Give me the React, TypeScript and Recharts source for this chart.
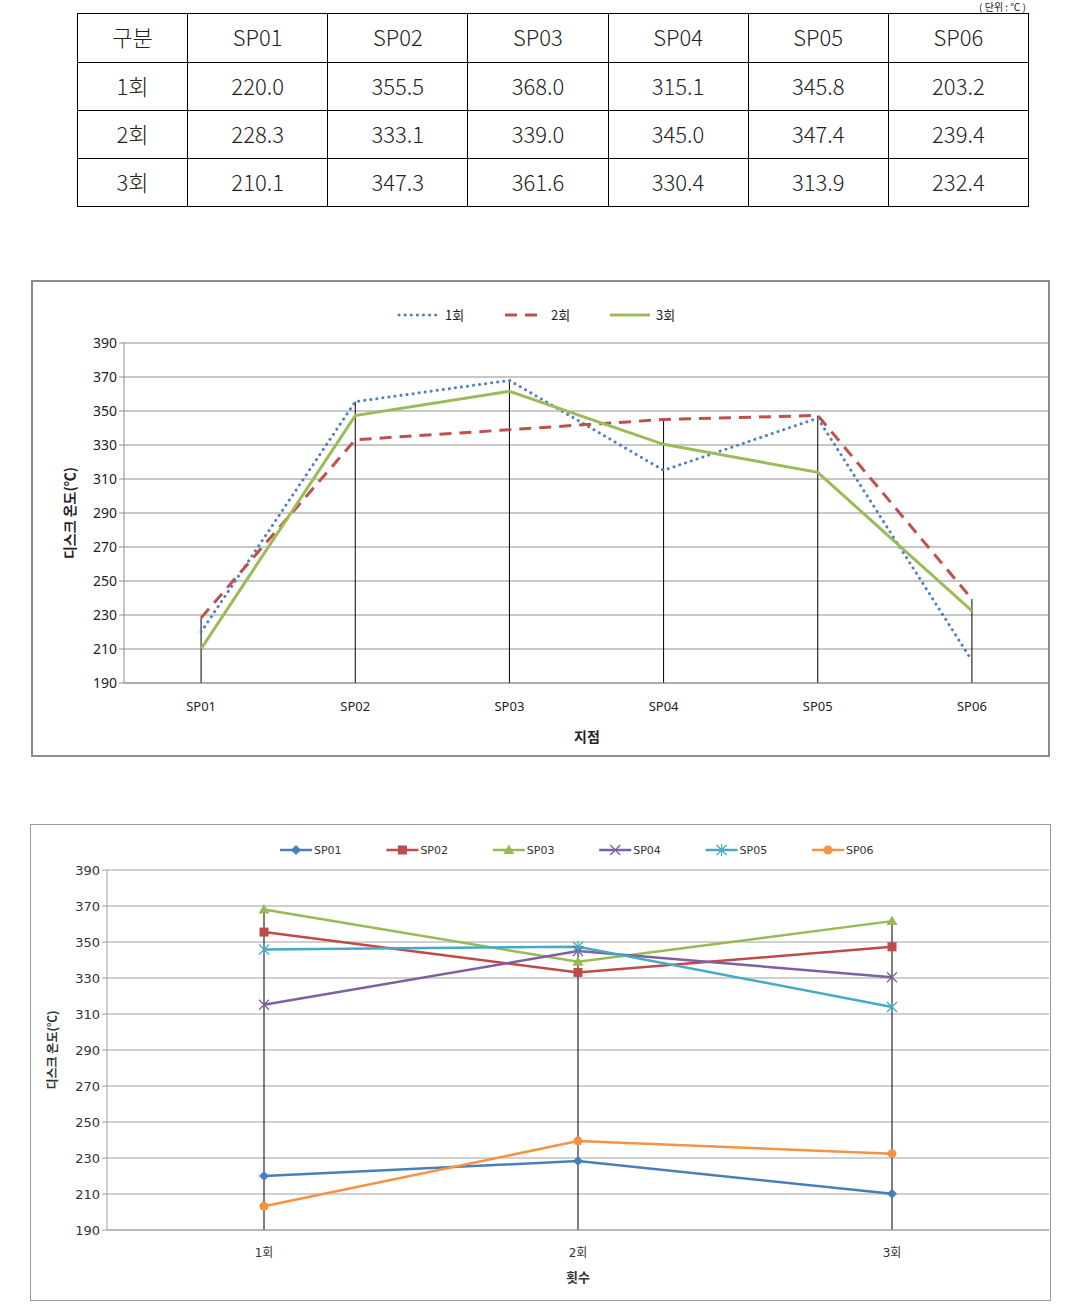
import React from 'react';
import {
  LineChart, Line, XAxis, YAxis, CartesianGrid, ReferenceLine
} from 'recharts';

const categories = ['SP01', 'SP02', 'SP03', 'SP04', 'SP05', 'SP06'];
const runLabels = ['1회', '2회', '3회'];
const run1 = [220.0, 355.5, 368.0, 315.1, 345.8, 203.2];
const run2 = [228.3, 333.1, 339.0, 345.0, 347.4, 239.4];
const run3 = [210.1, 347.3, 361.6, 330.4, 313.9, 232.4];
const runs = [run1, run2, run3];
const yTicks = [190, 210, 230, 250, 270, 290, 310, 330, 350, 370, 390];

const runColors = ['#4F81BD', '#C0504D', '#9BBB59'];
const runDash = ['0.1 6', '12 8', undefined];
const spColors = ['#4A7EBB', '#BE4B48', '#98B954', '#7D60A0', '#46AAC5', '#F69240'];

const byPoint = categories.map((c, i) => ({ name: c, r0: run1[i], r1: run2[i], r2: run3[i] }));
const byRun = runLabels.map((r, j) => {
  const row: Record<string, string | number> = { name: r };
  categories.forEach((c, i) => { row[c] = runs[j][i]; });
  return row;
});

const latin = '"Noto Sans", "Noto Sans CJK KR", sans-serif';
const dejavu = '"DejaVu Sans", "Noto Sans CJK KR", sans-serif';
const cjk = '"Noto Sans CJK KR", sans-serif';

// marker shapes for the second chart
const Marker = ({ kind, cx, cy, color }: { kind: number; cx: number; cy: number; color: string }) => {
  if (cx == null || cy == null) return null;
  switch (kind) {
    case 0:
      return <polygon points={`${cx},${cy - 5} ${cx + 5},${cy} ${cx},${cy + 5} ${cx - 5},${cy}`} fill={color} />;
    case 1:
      return <rect x={cx - 4.5} y={cy - 4.5} width={9} height={9} fill={color} />;
    case 2:
      return <polygon points={`${cx},${cy - 5.5} ${cx + 5.5},${cy + 4} ${cx - 5.5},${cy + 4}`} fill={color} />;
    case 3:
      return (
        <g stroke={color} strokeWidth={1.3}>
          <line x1={cx - 5} y1={cy - 5} x2={cx + 5} y2={cy + 5} />
          <line x1={cx - 5} y1={cy + 5} x2={cx + 5} y2={cy - 5} />
        </g>
      );
    case 4:
      return (
        <g stroke={color} strokeWidth={1.3}>
          <line x1={cx - 5} y1={cy - 5} x2={cx + 5} y2={cy + 5} />
          <line x1={cx - 5} y1={cy + 5} x2={cx + 5} y2={cy - 5} />
          <line x1={cx} y1={cy - 6} x2={cx} y2={cy + 6} />
        </g>
      );
    default:
      return <circle cx={cx} cy={cy} r={4.5} fill={color} />;
  }
};

const cell: React.CSSProperties = { border: '1px solid #000', paddingBottom: 5 };

const TopTable = () => (
  <>
    <div style={{ position: 'absolute', right: 62, top: 1, fontFamily: cjk, fontSize: 10, lineHeight: '11px', color: '#222', whiteSpace: 'pre' }}>
      {'( 단위 : ℃ )'}
    </div>
    <table style={{
      position: 'absolute', left: 77, top: 13, width: 952, borderCollapse: 'collapse',
      fontFamily: cjk, fontSize: 22, fontWeight: 300, color: '#222', textAlign: 'center'
    }}>
      <tbody>
        <tr style={{ height: 49 }}>
          <td style={{ ...cell, width: 109 }}>구분</td>
          {categories.map(c => <td key={c} style={{ ...cell, width: 139 }}>{c}</td>)}
        </tr>
        {runLabels.map((r, j) => (
          <tr key={r} style={{ height: 48 }}>
            <td style={cell}>{r}</td>
            {runs[j].map((v, i) => <td key={i} style={cell}>{v.toFixed(1)}</td>)}
          </tr>
        ))}
      </tbody>
    </table>
  </>
);

const PointChart = () => (
  <>
    <div style={{ position: 'absolute', left: 31, top: 280 }}>
      <LineChart width={1019} height={477} data={byPoint} margin={{ top: 63, right: 1, left: 33, bottom: 44 }}>
        <CartesianGrid vertical={false} stroke="#8f8f8f" />
        <XAxis dataKey="name" scale="band" axisLine={{ stroke: '#8f8f8f' }} tickLine={false} tickMargin={13}
          tick={{ fill: '#222', fontSize: 13, fontFamily: latin }} />
        <YAxis domain={[190, 390]} ticks={yTicks} interval={0} width={60} tickSize={5}
          axisLine={{ stroke: '#8f8f8f' }} tickLine={{ stroke: '#8f8f8f' }}
          tick={{ fill: '#222', fontSize: 14, fontFamily: latin }} />
        {categories.map((c, i) => (
          <ReferenceLine key={c} segment={[{ x: c, y: 190 }, { x: c, y: Math.max(run1[i], run2[i], run3[i]) }]}
            stroke="#000" strokeWidth={1} ifOverflow="visible" />
        ))}
        {runLabels.map((r, j) => (
          <Line key={r} dataKey={`r${j}`} name={r} stroke={runColors[j]} strokeWidth={3}
            strokeDasharray={runDash[j]} strokeLinecap={j === 0 ? 'round' : 'butt'}
            dot={false} activeDot={false} isAnimationActive={false} />
        ))}
      </LineChart>
    </div>
    <div style={{ position: 'absolute', left: 31, top: 280, width: 1019, height: 477, border: '2px solid #8c8c8c', boxSizing: 'border-box', pointerEvents: 'none' }} />
    <svg style={{ position: 'absolute', left: 0, top: 0, pointerEvents: 'none' }} width={1088} height={780}>
      {runLabels.map((r, j) => {
        const x0 = [399, 505, 610][j];
        return (
          <g key={r}>
            <line x1={x0} y1={315} x2={x0 + 40} y2={315} stroke={runColors[j]} strokeWidth={3}
              strokeDasharray={runDash[j]} strokeLinecap={j === 0 ? 'round' : 'butt'} />
            <text x={x0 + 46} y={320} fontSize={13} fontFamily={cjk} fill="#222">{r}</text>
          </g>
        );
      })}
      <text x={587} y={742} textAnchor="middle" fontSize={14} fontWeight="bold" fontFamily={cjk} fill="#222">지점</text>
      <text transform="translate(75,513) rotate(-90)" textAnchor="middle" fontSize={14} fontWeight="bold" fontFamily={cjk} fill="#222">디스크 온도(℃)</text>
    </svg>
  </>
);

const RunChart = () => (
  <>
    <div style={{ position: 'absolute', left: 30, top: 824 }}>
      <LineChart width={1021} height={477} data={byRun} margin={{ top: 46, right: 2, left: 27, bottom: 41 }}>
        <CartesianGrid vertical={false} stroke="#a0a0a0" />
        <XAxis dataKey="name" scale="band" axisLine={{ stroke: '#a0a0a0' }} tickLine={false} tickMargin={12}
          tick={{ fill: '#333', fontSize: 12, fontFamily: dejavu }} />
        <YAxis domain={[190, 390]} ticks={yTicks} interval={0} width={50} tickSize={5}
          axisLine={{ stroke: '#a0a0a0' }} tickLine={{ stroke: '#a0a0a0' }}
          tick={{ fill: '#333', fontSize: 13, fontFamily: dejavu }} />
        {runLabels.map((r, j) => (
          <ReferenceLine key={r} segment={[{ x: r, y: 190 }, { x: r, y: Math.max(...runs[j]) }]}
            stroke="#000" strokeWidth={1} ifOverflow="visible" />
        ))}
        {categories.map((c, i) => (
          <Line key={c} dataKey={c} name={c} stroke={spColors[i]} strokeWidth={2.5}
            dot={(p: any) => <Marker key={`${c}-${p.index}`} kind={i} cx={p.cx} cy={p.cy} color={spColors[i]} />}
            activeDot={false} isAnimationActive={false} />
        ))}
      </LineChart>
    </div>
    <div style={{ position: 'absolute', left: 30, top: 824, width: 1021, height: 477, border: '1px solid #9a9a9a', boxSizing: 'border-box', pointerEvents: 'none' }} />
    <svg style={{ position: 'absolute', left: 0, top: 800, pointerEvents: 'none' }} width={1088} height={509}>
      {categories.map((c, i) => {
        const x0 = 280 + i * 106.4;
        return (
          <g key={c}>
            <line x1={x0} y1={50} x2={x0 + 32} y2={50} stroke={spColors[i]} strokeWidth={2.5} />
            <Marker kind={i} cx={x0 + 16} cy={50} color={spColors[i]} />
            <text x={x0 + 34} y={54} fontSize={11} fontFamily={dejavu} fill="#333">{c}</text>
          </g>
        );
      })}
      <text x={578} y={482} textAnchor="middle" fontSize={13} fontWeight="bold" fontFamily={cjk} fill="#333">횟수</text>
      <text transform="translate(57,250) rotate(-90)" textAnchor="middle" fontSize={12} fontWeight="bold" fontFamily={cjk} fill="#333">디스크 온도(℃)</text>
    </svg>
  </>
);

export default function App() {
  return (
    <div style={{ position: 'absolute', left: 0, top: 0, width: 1088, height: 1309, background: '#fff', overflow: 'hidden' }}>
      <TopTable />
      <PointChart />
      <RunChart />
    </div>
  );
}
